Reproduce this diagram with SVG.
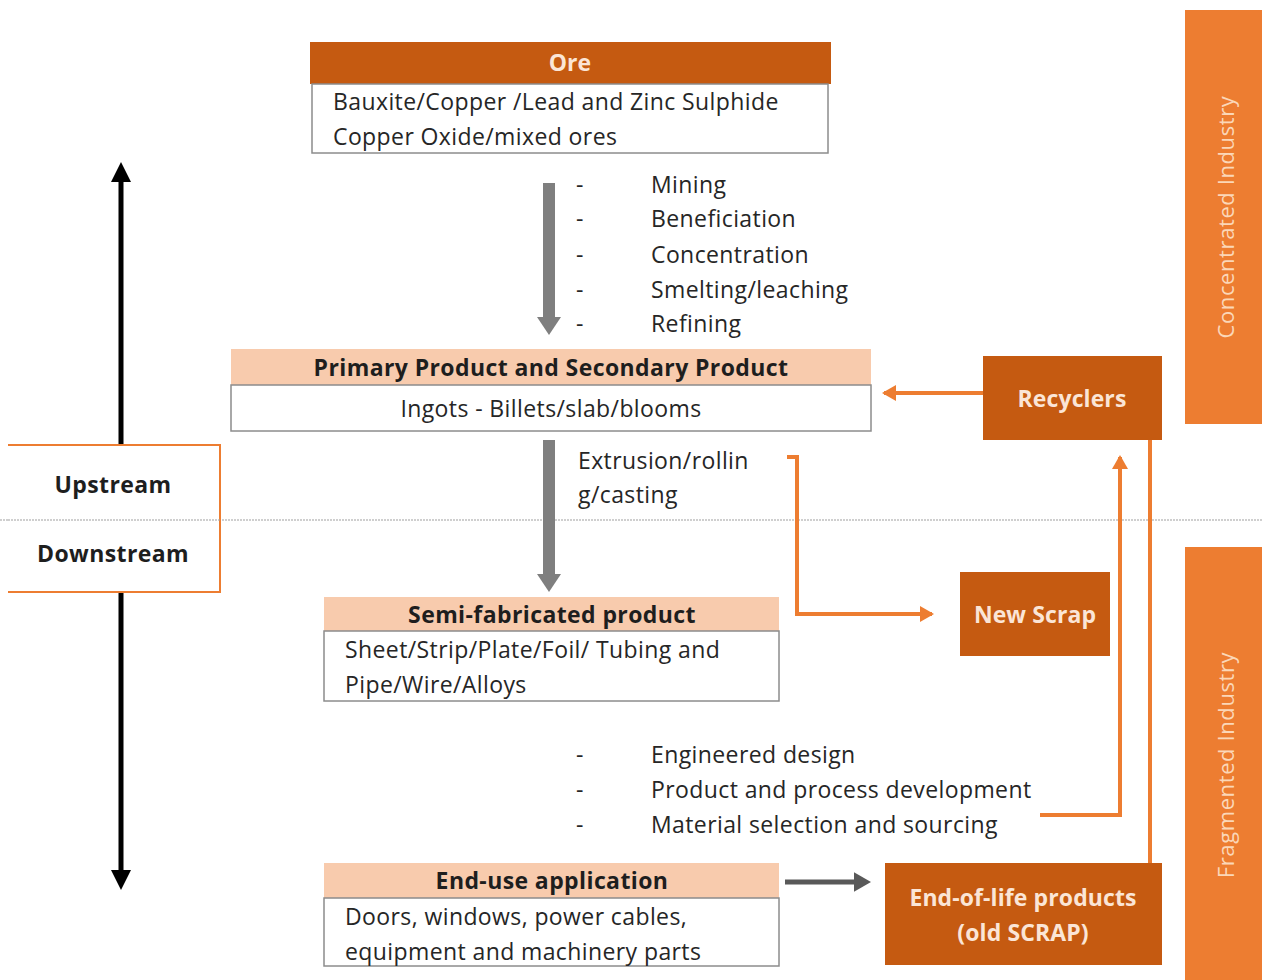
<svg xmlns="http://www.w3.org/2000/svg" width="1262" height="980" viewBox="0 0 1262 980">
<style>
text{font-family:"Open Sans","Liberation Sans",sans-serif;}
.hd{fill:#c55a11;}
.lh{fill:#f8cbad;}
.bd{fill:#fff;stroke:#8c8c8c;stroke-width:1.5;}
.t{font-size:23px;letter-spacing:0.4px;fill:#262626;}
.b{font-size:23px;letter-spacing:0.4px;font-weight:bold;fill:#1e1e1e;}
.w{font-size:23px;letter-spacing:0.1px;font-weight:bold;fill:#fbe5d6;}
.side{font-size:22px;letter-spacing:0.6px;fill:#fbd7b8;}
.or{stroke:#ed7d31;stroke-width:4;fill:none;}
.gr{stroke:#7f7f7f;stroke-width:12;fill:none;}
</style>
<defs>
<marker id="ao" markerWidth="5" markerHeight="5" refX="3" refY="2" orient="auto" markerUnits="strokeWidth"><path d="M0,0 L3.5,2 L0,4 z" fill="#ed7d31"/></marker>
<marker id="ag" markerWidth="24" markerHeight="24" refX="4" refY="12" orient="auto" markerUnits="userSpaceOnUse"><path d="M0,0 L18,12 L0,24 z" fill="#7f7f7f"/></marker>
<marker id="ad" markerWidth="4" markerHeight="4" refX="2.5" refY="2" orient="auto" markerUnits="strokeWidth"><path d="M0,0 L3.5,2 L0,4 z" fill="#595959"/></marker>
<marker id="ak" markerWidth="4" markerHeight="4" refX="2" refY="2" orient="auto" markerUnits="strokeWidth"><path d="M0,0 L4,2 L0,4 z" fill="#000"/></marker>
</defs>

<line x1="0" y1="520" x2="1262" y2="520" stroke="#a0a0a0" stroke-width="1.2" stroke-dasharray="2,1"/>

<g id="side-concentrated">
<rect x="1185" y="10" width="77" height="414" fill="#ed7d31"/>
<text class="side" transform="translate(1234,217) rotate(-90)" text-anchor="middle">Concentrated Industry</text>
</g>
<g id="side-fragmented">
<rect x="1185" y="547" width="77" height="433" fill="#ed7d31"/>
<text class="side" transform="translate(1234,765) rotate(-90)" text-anchor="middle">Fragmented Industry</text>
</g>

<g id="connectors">
<line class="gr" x1="549" y1="183" x2="549" y2="321" marker-end="url(#ag)"/>
<line class="gr" x1="549" y1="440" x2="549" y2="578" marker-end="url(#ag)"/>
<line x1="785" y1="882" x2="866" y2="882" stroke="#595959" stroke-width="5" marker-end="url(#ad)"/>
<line class="or" x1="983" y1="393" x2="884" y2="393" marker-end="url(#ao)"/>
<polyline class="or" points="787,457 797,457 797,614 932,614" marker-end="url(#ao)"/>
<polyline class="or" points="1040,815 1120,815 1120,457" marker-end="url(#ao)"/>
<line class="or" x1="1150" y1="440" x2="1150" y2="863"/>
<line x1="121" y1="445" x2="121" y2="172" stroke="#000" stroke-width="5" marker-end="url(#ak)"/>
<line x1="121" y1="592" x2="121" y2="880" stroke="#000" stroke-width="5" marker-end="url(#ak)"/>
</g>

<g id="ore">
<rect class="hd" x="310" y="42" width="521" height="42"/>
<rect class="bd" x="312" y="84" width="516" height="69"/>
<text class="w" x="570" y="71" text-anchor="middle">Ore</text>
<text class="t" x="333" y="110">Bauxite/Copper /Lead and Zinc Sulphide</text>
<text class="t" x="333" y="145">Copper Oxide/mixed ores</text>
</g>

<g id="steps1">
<text class="t" x="576" y="193">-</text><text class="t" x="651" y="193">Mining</text>
<text class="t" x="576" y="227">-</text><text class="t" x="651" y="227">Beneficiation</text>
<text class="t" x="576" y="263">-</text><text class="t" x="651" y="263">Concentration</text>
<text class="t" x="576" y="298">-</text><text class="t" x="651" y="298">Smelting/leaching</text>
<text class="t" x="576" y="332">-</text><text class="t" x="651" y="332">Refining</text>
</g>

<g id="primary">
<rect class="lh" x="231" y="349" width="640" height="36"/>
<rect class="bd" x="231" y="385" width="640" height="46"/>
<text class="b" x="551" y="376" text-anchor="middle">Primary Product and Secondary Product</text>
<text class="t" x="551" y="417" text-anchor="middle">Ingots - Billets/slab/blooms</text>
</g>

<g id="extrusion">
<text class="t" x="578" y="469">Extrusion/rollin</text>
<text class="t" x="578" y="503">g/casting</text>
</g>

<g id="recyclers">
<rect class="hd" x="983" y="356" width="179" height="84"/>
<text class="w" x="1072" y="407" text-anchor="middle">Recyclers</text>
</g>

<g id="newscrap">
<rect class="hd" x="960" y="572" width="150" height="84"/>
<text class="w" x="1035" y="623" text-anchor="middle">New Scrap</text>
</g>

<g id="updown">
<path d="M8,445 H220 V592 H8" fill="#fff" stroke="#ed7d31" stroke-width="2"/>
<line x1="8" y1="520" x2="220" y2="520" stroke="#a0a0a0" stroke-width="1.2" stroke-dasharray="2,1"/>
<text class="b" x="113" y="493" text-anchor="middle">Upstream</text>
<text class="b" x="113" y="562" text-anchor="middle">Downstream</text>
</g>

<g id="semi">
<rect class="lh" x="324" y="597" width="455" height="34"/>
<rect class="bd" x="324" y="631" width="455" height="70"/>
<text class="b" x="552" y="623" text-anchor="middle">Semi-fabricated product</text>
<text class="t" x="345" y="658">Sheet/Strip/Plate/Foil/ Tubing and</text>
<text class="t" x="345" y="693">Pipe/Wire/Alloys</text>
</g>

<g id="steps2">
<text class="t" x="576" y="763">-</text><text class="t" x="651" y="763">Engineered design</text>
<text class="t" x="576" y="798">-</text><text class="t" x="651" y="798">Product and process development</text>
<text class="t" x="576" y="833">-</text><text class="t" x="651" y="833">Material selection and sourcing</text>
</g>

<g id="enduse">
<rect class="lh" x="324" y="863" width="455" height="35"/>
<rect class="bd" x="324" y="898" width="455" height="68"/>
<text class="b" x="552" y="889" text-anchor="middle">End-use application</text>
<text class="t" x="345" y="925">Doors, windows, power cables,</text>
<text class="t" x="345" y="960">equipment and machinery parts</text>
</g>

<g id="endoflife">
<rect class="hd" x="885" y="863" width="277" height="102"/>
<text class="w" x="1023" y="906" text-anchor="middle">End-of-life products</text>
<text class="w" x="1023" y="941" text-anchor="middle">(old SCRAP)</text>
</g>
</svg>
